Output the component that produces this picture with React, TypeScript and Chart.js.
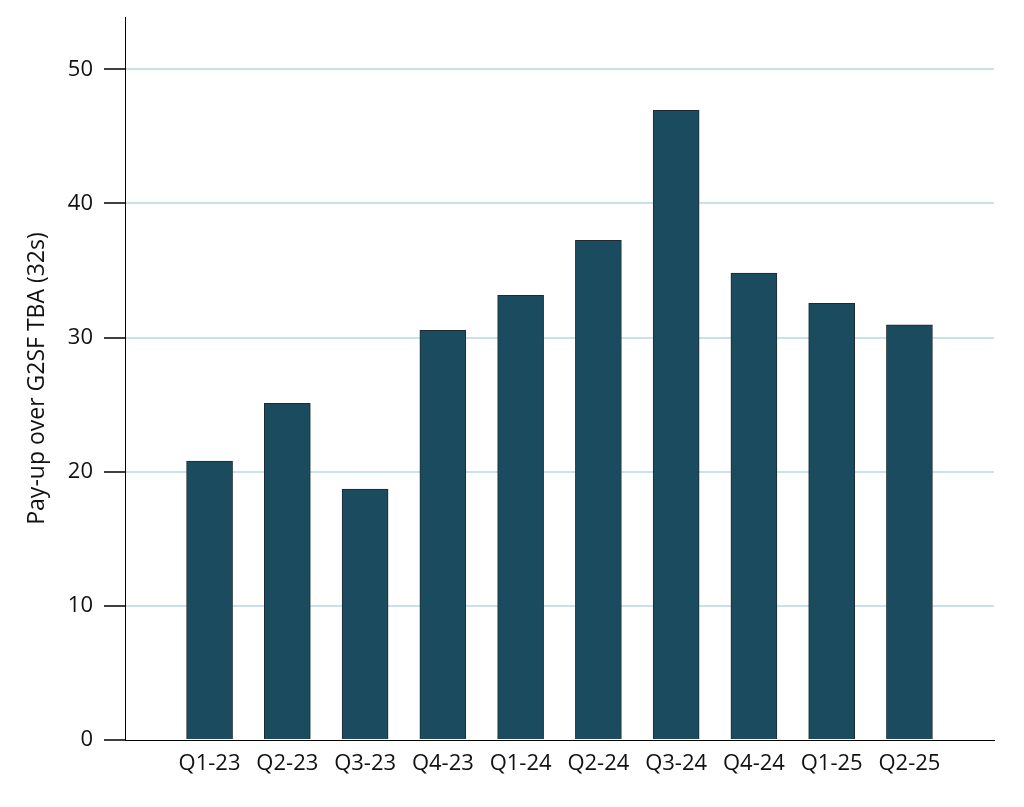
import React, { useEffect, useRef } from "react";
import { Chart, registerables } from "chart.js";

Chart.register(...registerables);

const categories = ["Q1-23", "Q2-23", "Q3-23", "Q4-23", "Q1-24", "Q2-24", "Q3-24", "Q4-24", "Q1-25", "Q2-25"];
const payUp = [20.8, 25.1, 18.7, 30.55, 33.15, 37.25, 46.95, 34.8, 32.55, 30.95];
const yTicks = [0, 10, 20, 30, 40, 50];
const yTitle = "Pay-up over G2SF TBA (32s)";

const FONT = "'Open Sans', 'Noto Sans', sans-serif";

export default function App() {
  const ref = useRef<HTMLCanvasElement | null>(null);

  useEffect(() => {
    if (!ref.current) return;
    const chart = new Chart(ref.current, {
      type: "bar",
      data: {
        datasets: [
          {
            data: payUp.map((v, i) => ({ x: i, y: v })),
            backgroundColor: "#1a4b5f",
            borderColor: "#1e2a30",
            borderWidth: 1,
            barThickness: 46,
          },
        ],
      },
      options: {
        responsive: false,
        animation: false,
        layout: { padding: { top: 17, right: 30, left: 0, bottom: 0 } },
        plugins: { legend: { display: false }, tooltip: { enabled: false } },
        scales: {
          x: {
            type: "linear",
            offset: false,
            min: -1.0875,
            max: 10.0875,
            grid: { display: false, drawTicks: false },
            border: { display: true, color: "#000", width: 1 },
            afterBuildTicks: (scale: any) => {
              scale.ticks = categories.map((_, i) => ({ value: i }));
            },
            afterFit: (scale: any) => {
              scale.height = 67;
              scale.paddingLeft = 0;
              scale.paddingRight = 0;
            },
            ticks: {
              autoSkip: false,
              maxRotation: 0,
              padding: 11,
              color: "#111",
              font: { family: FONT, size: 22 },
              callback: (v: any) => categories[v as number] ?? "",
            },
          },
          y: {
            min: 0,
            max: 53.9,
            afterBuildTicks: (scale: any) => {
              scale.ticks = yTicks.map((v) => ({ value: v }));
            },
            afterFit: (scale: any) => {
              scale.width = 125;
              scale.paddingTop = 0;
              scale.paddingBottom = 0;
            },
            grid: {
              color: (ctx: any) => (ctx.tick && ctx.tick.value === 0 ? "rgba(0,0,0,0)" : "#c9e2ea"),
              lineWidth: 2,
              tickColor: "#000",
              tickWidth: 1.5,
              tickLength: 21,
              drawTicks: true,
            },
            border: { display: true, color: "#000", width: 1 },
            ticks: {
              padding: 11,
              color: "#111",
              font: { family: FONT, size: 22 },
            },
            title: {
              display: true,
              text: yTitle,
              color: "#111",
              font: { family: FONT, size: 23 },
              padding: { top: 24, bottom: 0 },
            },
          },
        },
      },
    });
    return () => chart.destroy();
  }, []);

  return (
    <div style={{ position: "absolute", left: 0, top: 0, width: 1024, height: 807, background: "#fff" }}>
      <canvas ref={ref} width={1024} height={807} style={{ display: "block" }} />
    </div>
  );
}
